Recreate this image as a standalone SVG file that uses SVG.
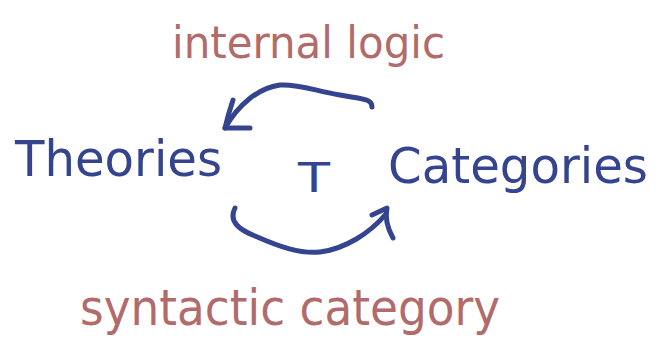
<svg xmlns="http://www.w3.org/2000/svg" width="660" height="352" viewBox="0 0 660 352">
<style>
.blue{fill:#34448f;font-family:"DejaVu Sans",sans-serif;}
.red{fill:#b26b6b;font-family:"DejaVu Sans",sans-serif;}
.arr{fill:none;stroke:#34448f;stroke-width:5;stroke-linecap:round;stroke-linejoin:round;}
</style>
<rect width="660" height="352" fill="#fff"/>
<g id="theories"><text class="blue" x="15" y="176" font-size="50" textLength="207" lengthAdjust="spacingAndGlyphs">Theories</text></g>
<g id="T"><text class="blue" x="298" y="192" font-size="40" textLength="32" lengthAdjust="spacingAndGlyphs">T</text></g>
<g id="categories"><text class="blue" x="388" y="183" font-size="49" textLength="260" lengthAdjust="spacingAndGlyphs">Categories</text></g>
<g id="connectors">
<path class="arr" d="M372,107 C372,98 360,99 340,95 C315,91 300,84 280,85 C258,88 238,105 225,128"/>
<path class="arr" d="M233,100 Q228,115 225,128 L250,128"/>
<path class="arr" d="M235,208 C228,222 240,230 255,236 C280,247 300,254 320,252 C345,249 370,233 386,214"/>
<path class="arr" d="M372,215 L387,208 Q384,222 393,238"/>
<g id="label-internal"><text class="red" x="172" y="58" font-size="44" textLength="273" lengthAdjust="spacingAndGlyphs">internal logic</text></g>
<g id="label-syntactic"><text class="red" x="80" y="325" font-size="50" textLength="420" lengthAdjust="spacingAndGlyphs">syntactic category</text></g>
</g>
</svg>
